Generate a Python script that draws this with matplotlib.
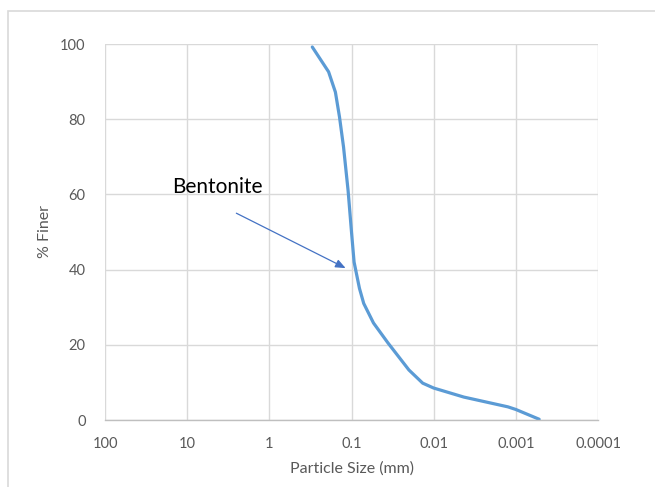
import numpy as np
import matplotlib
matplotlib.use("Agg")
import matplotlib.pyplot as plt
from matplotlib.patches import Rectangle
from matplotlib.ticker import FixedLocator, FixedFormatter

plt.rcParams['font.family'] = ['Lato', 'DejaVu Sans']

# grain size curve
size_mm = [0.30, 0.19, 0.157, 0.14, 0.125, 0.11, 0.10, 0.093, 0.08, 0.071,
           0.054, 0.036, 0.020, 0.0136, 0.010, 0.0043, 0.00125, 0.001, 0.00052]
finer = [99.2, 92.6, 87.2, 80.6, 72.6, 61.0, 50.0, 42.0, 35.0, 31.0,
         25.8, 20.5, 13.3, 9.8, 8.5, 6.1, 3.5, 2.8, 0.2]

xticks = [100, 10, 1, 0.1, 0.01, 0.001, 0.0001]
xticklabels = ["100", "10", "1", "0.1", "0.01", "0.001", "0.0001"]
yticks = [0, 20, 40, 60, 80, 100]

label_text = "Bentonite"
arrow_from = (2.52, 55)
arrow_to = (0.118, 40.4)
text_pos = (15.2, 62)

fig = plt.figure(figsize=(6.55, 4.87), dpi=100)
fig.patches.append(Rectangle((8/655, -0.5), 2, 0.977 + 0.5, transform=fig.transFigure,
                             fill=False, edgecolor="#D9D9D9", linewidth=1.2))
ax = fig.add_axes([105/655, 1 - 420/487, (598 - 105)/655, (420 - 44)/487])

ax.plot(size_mm, finer, color="#5B9BD5", linewidth=2.3, solid_capstyle="round")

ax.set_xscale("log")
ax.set_xlim(100, 0.0001)
ax.set_ylim(0, 100)
ax.xaxis.set_major_locator(FixedLocator(xticks))
ax.xaxis.set_major_formatter(FixedFormatter(xticklabels))
ax.xaxis.set_minor_locator(FixedLocator([]))
ax.set_yticks(yticks)

ax.grid(True, color="#D9D9D9", linewidth=1.0)
for s in ["top", "right", "left"]:
    ax.spines[s].set_visible(False)
ax.spines["bottom"].set_color("#BFBFBF")
ax.spines["bottom"].set_linewidth(1.0)
ax.tick_params(length=0, colors="#595959", labelsize=10.5)
ax.tick_params(axis="x", pad=12)
ax.tick_params(axis="y", pad=14)

ax.set_xlabel("Particle Size (mm)", color="#595959", fontsize=11.5, labelpad=8)
ax.set_ylabel("% Finer", color="#595959", fontsize=11.5, labelpad=6)

ax.annotate("", xy=arrow_to, xytext=arrow_from,
            arrowprops=dict(arrowstyle="-|>,head_length=0.6,head_width=0.25",
                            color="#4472C4", linewidth=0.9, shrinkA=0, shrinkB=0))
ax.text(text_pos[0], text_pos[1], label_text, fontsize=15, color="black",
        ha="left", va="center")

fig.savefig("out.png", dpi=100)
